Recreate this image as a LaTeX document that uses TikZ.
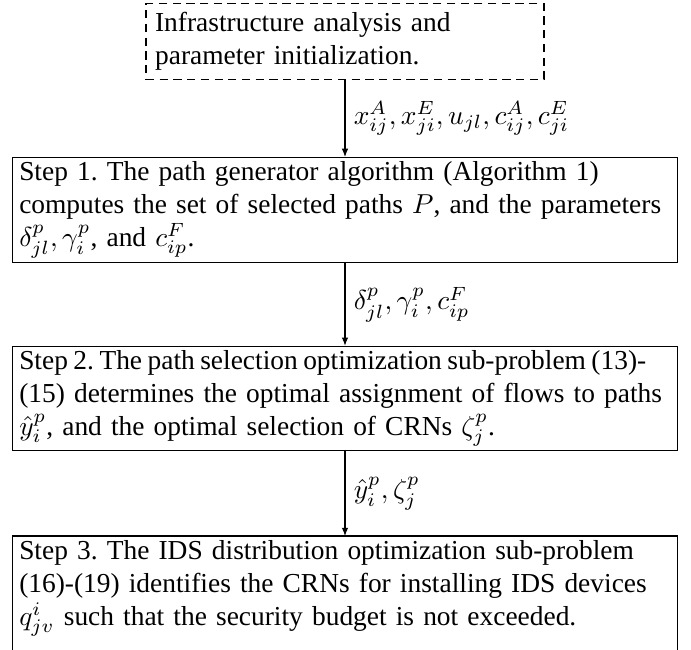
\documentclass[tikz,border=0pt]{standalone}
\usepackage{fontspec}
\setmainfont{Liberation Serif}
\usetikzlibrary{arrows.meta}
\frenchspacing
\begin{document}
\begin{tikzpicture}[x=0.3647pt,y=-0.3647pt,
  basefont/.style={font=\fontsize{10}{12}\selectfont\frenchspacing},
  stepbox/.style={draw, basefont, text width=237.6pt, inner xsep=2.3pt, inner ysep=1.5pt, minimum height=37.9pt, align=left},
  initbox/.style={draw, dash pattern=on 3pt off 2pt, basefont, text width=138.5pt, inner xsep=3.33pt, inner ysep=1.5pt, minimum height=27.4pt, align=left},
  flow/.style={-{Latex[length=3pt,width=2.4pt]}},
  lbl/.style={right, basefont, inner sep=3pt}]
\useasboundingbox (0,0) rectangle (691,649);
\node[initbox] (init) at (345,41.5) {Infrastructure analysis and\\ parameter initialization.};
\node[stepbox] (s1) at (345,210) {Step 1. The path generator algorithm (Algorithm 1)\\ computes the set of selected paths $P$, and the parameters\\ $\delta^p_{jl}, \gamma^p_i$, and $c^F_{ip}$.};
\node[stepbox] (s2) at (345,398.5) {\mbox{\spaceskip=0.2em\relax Step 2. The path selection optimization sub-problem (13)-}\\ (15) determines the optimal assignment of flows to paths\\ $\hat{y}^p_i$, and the optimal selection of CRNs $\zeta^p_j$.};
\node[stepbox, draw=none, anchor=north] (s3) at (345,536) {Step 3. The IDS distribution optimization sub-problem\\ (16)-(19) identifies the CRNs for installing IDS devices\\ $q^i_{jv}$ such that the security budget is not exceeded.};
\coordinate (cut) at (0,665);
\draw (s3.north west |- cut) -- (s3.north west) -- (s3.north east) -- (s3.north east |- cut);
\draw[flow] (init.south) -- (s1.north) node[midway, lbl] {$x^A_{ij}, x^E_{ji}, u_{jl}, c^A_{ij}, c^E_{ji}$};
\draw[flow] (s1.south) -- (s2.north) node[midway, lbl] {$\delta^p_{jl}, \gamma^p_i, c^F_{ip}$};
\draw[flow] (s2.south) -- (s3.north) node[midway, lbl] {$\hat{y}^p_i, \zeta^p_j$};
\end{tikzpicture}
\end{document}
